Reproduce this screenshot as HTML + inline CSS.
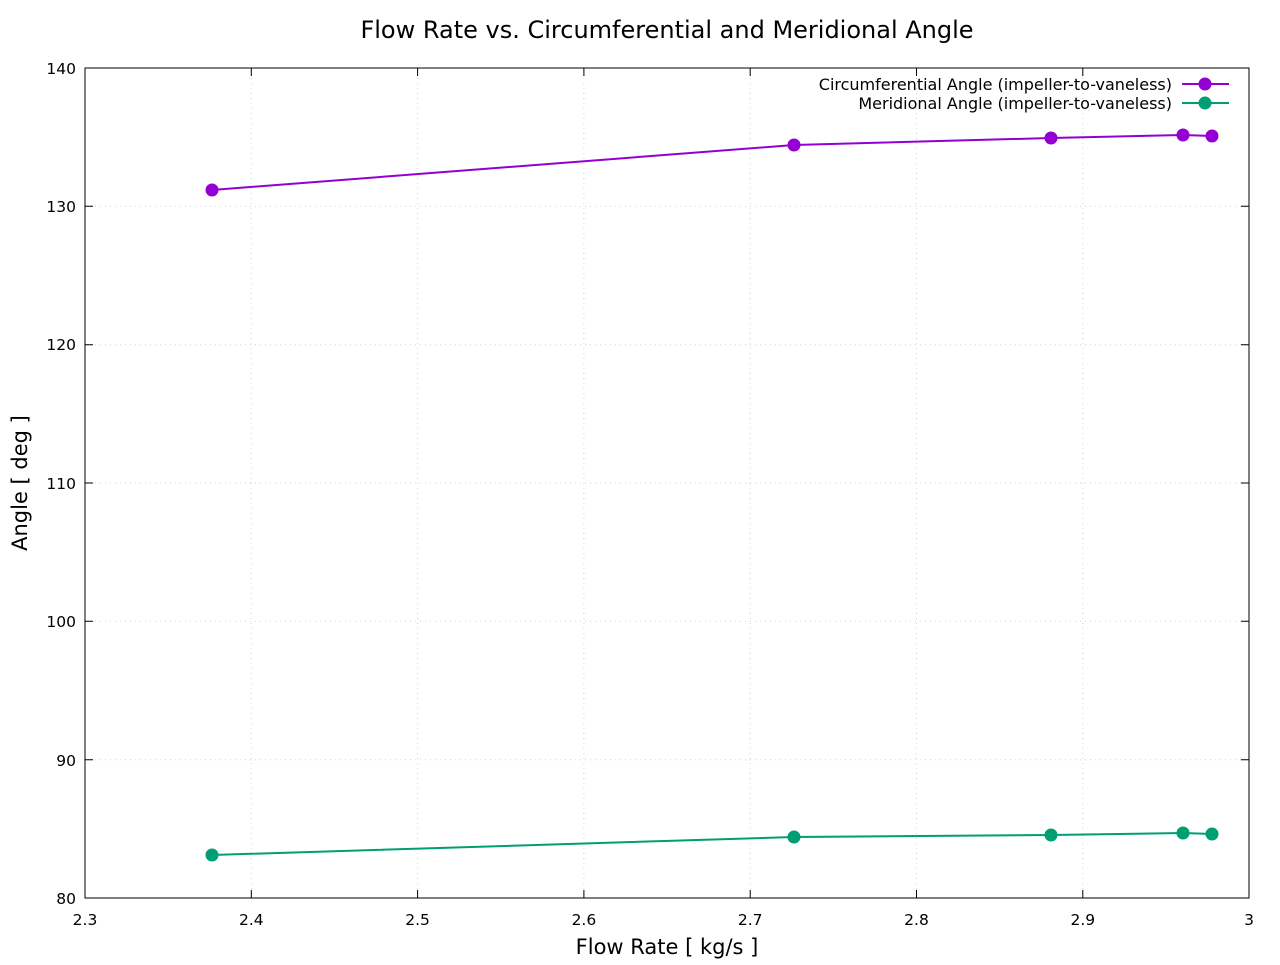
<!DOCTYPE html>
<html><head><meta charset="utf-8"><style>
html,body{margin:0;padding:0;background:#fff;}
svg text{font-family:"DejaVu Sans","Liberation Sans",sans-serif;fill:#000;}
</style></head><body>
<svg width="1280" height="960" xmlns="http://www.w3.org/2000/svg">
<rect width="1280" height="960" fill="#fff"/>
<g stroke="#d0d0d0" stroke-width="1" stroke-dasharray="1,4">
<line x1="251.3" y1="68" x2="251.3" y2="898"/>
<line x1="417.6" y1="68" x2="417.6" y2="898"/>
<line x1="583.9" y1="68" x2="583.9" y2="898"/>
<line x1="750.2" y1="68" x2="750.2" y2="898"/>
<line x1="916.5" y1="68" x2="916.5" y2="898"/>
<line x1="1082.8" y1="68" x2="1082.8" y2="898"/>
<line x1="85" y1="759.7" x2="1249" y2="759.7"/>
<line x1="85" y1="621.3" x2="1249" y2="621.3"/>
<line x1="85" y1="483" x2="1249" y2="483"/>
<line x1="85" y1="344.7" x2="1249" y2="344.7"/>
<line x1="85" y1="206.3" x2="1249" y2="206.3"/>
</g>
<g stroke="#000" stroke-width="1">
<rect x="85" y="68" width="1164" height="830" fill="none"/>
<path d="M251.3 898v-8M417.6 898v-8M583.9 898v-8M750.2 898v-8M916.5 898v-8M1082.8 898v-8
M251.3 68v8M417.6 68v8M583.9 68v8M750.2 68v8M916.5 68v8M1082.8 68v8
M85 759.7h8M85 621.3h8M85 483h8M85 344.7h8M85 206.3h8
M1249 759.7h-8M1249 621.3h-8M1249 483h-8M1249 344.7h-8M1249 206.3h-8"/>
</g>
<g font-size="15.5" text-anchor="end">
<text x="76" y="904">80</text><text x="76" y="766">90</text><text x="76" y="627">100</text>
<text x="76" y="489">110</text><text x="76" y="350">120</text><text x="76" y="212">130</text><text x="76" y="74">140</text>
</g>
<g font-size="15.5" text-anchor="middle">
<text x="85" y="925">2.3</text><text x="251.3" y="925">2.4</text><text x="417.6" y="925">2.5</text>
<text x="583.9" y="925">2.6</text><text x="750.2" y="925">2.7</text><text x="916.5" y="925">2.8</text>
<text x="1082.8" y="925">2.9</text><text x="1249" y="925">3</text>
</g>
<text x="667" y="38" font-size="24" text-anchor="middle">Flow Rate vs. Circumferential and Meridional Angle</text>
<text x="667" y="954" font-size="21" text-anchor="middle">Flow Rate [ kg/s ]</text>
<text transform="translate(27,483) rotate(-90)" font-size="21" text-anchor="middle">Angle [ deg ]</text>
<g font-size="16" text-anchor="end">
<text x="1172" y="90">Circumferential Angle (impeller-to-vaneless)</text>
<text x="1172" y="109">Meridional Angle (impeller-to-vaneless)</text>
</g>
<g stroke="#9400d3" stroke-width="2" fill="#9400d3">
<line x1="1182" y1="84" x2="1229" y2="84"/>
<polyline fill="none" points="212,190 794,145 1051,138 1183,135 1212,136"/>
</g>
<g fill="#9400d3">
<circle cx="1205" cy="84" r="6.5"/>
<circle cx="212" cy="190" r="6.5"/><circle cx="794" cy="145" r="6.5"/><circle cx="1051" cy="138" r="6.5"/><circle cx="1183" cy="135" r="6.5"/><circle cx="1212" cy="136" r="6.5"/>
</g>
<g stroke="#009e73" stroke-width="2">
<line x1="1182" y1="103" x2="1229" y2="103"/>
<polyline fill="none" points="212,855 794,837 1051,835 1183,833 1212,834"/>
</g>
<g fill="#009e73">
<circle cx="1205" cy="103" r="6.5"/>
<circle cx="212" cy="855" r="6.5"/><circle cx="794" cy="837" r="6.5"/><circle cx="1051" cy="835" r="6.5"/><circle cx="1183" cy="833" r="6.5"/><circle cx="1212" cy="834" r="6.5"/>
</g>
</svg>
</body></html>
